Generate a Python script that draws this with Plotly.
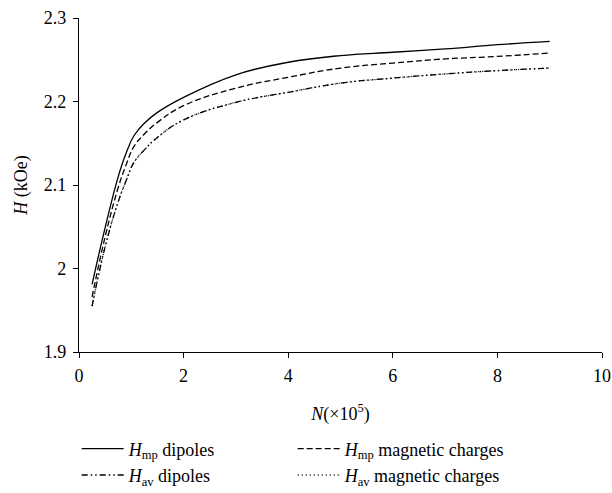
import plotly.graph_objects as go

N = [0.25, 0.5, 0.75, 0.9, 1.05, 1.25, 1.5, 2.0, 3.0, 4.0, 5.0, 6.0, 7.0, 8.0, 9.0]
H_mp_dip = [1.981, 2.049, 2.110, 2.138, 2.159, 2.174, 2.187, 2.205, 2.232, 2.247, 2.255, 2.259, 2.263, 2.268, 2.272]
H_mp_mag = [1.966, 2.038, 2.097, 2.124, 2.146, 2.161, 2.175, 2.195, 2.216, 2.229, 2.240, 2.246, 2.251, 2.254, 2.258]
H_av_dip = [1.955, 2.026, 2.080, 2.105, 2.127, 2.142, 2.157, 2.178, 2.199, 2.211, 2.222, 2.228, 2.233, 2.237, 2.240]
H_av_mag = [1.955, 2.026, 2.080, 2.105, 2.127, 2.142, 2.157, 2.178, 2.199, 2.211, 2.222, 2.228, 2.233, 2.237, 2.240]

names = ["<i>H</i><sub>mp</sub> dipoles", "<i>H</i><sub>mp</sub> magnetic charges",
         "<i>H</i><sub>av</sub> dipoles", "<i>H</i><sub>av</sub> magnetic charges"]
series = [H_mp_dip, H_mp_mag, H_av_dip, H_av_mag]
dashes = ["solid", "6px,3px", "6px,3px,1.5px,3px,1.5px,3px", "1px,3px"]
legends = ["legend", "legend2", "legend", "legend2"]

fig = go.Figure()
for nm, ys, d, lg in zip(names, series, dashes, legends):
    fig.add_trace(go.Scatter(x=N, y=ys, mode="lines", name=nm, line_shape="spline",
                             legend=lg,
                             line=dict(color="black", width=1.3, dash=d, smoothing=1.2)))

SERIF = "Liberation Serif, Times New Roman, serif"
leg_common = dict(orientation="v", xanchor="left", xref="paper",
                  yref="container", y=0.127, yanchor="top",
                  tracegroupgap=0, font=dict(family=SERIF, size=18),
                  itemwidth=42, borderwidth=0, bgcolor="rgba(0,0,0,0)")
fig.update_layout(
    width=612, height=493, plot_bgcolor="white", paper_bgcolor="white",
    margin=dict(l=79, r=10, t=18, b=141, autoexpand=False),
    font=dict(family=SERIF, size=18, color="black"),
    showlegend=True,
    legend=dict(x=-0.0044, **leg_common),
    legend2=dict(x=0.4086, **leg_common),
    xaxis=dict(range=[0, 10], dtick=2, showline=True, linecolor="black", linewidth=1.2,
               ticks="outside", ticklen=5, tickcolor="black", showgrid=False, zeroline=False,
               automargin=False, ticklabelstandoff=2,
               tickfont=dict(family=SERIF, size=18),
               title=dict(text="<i>N</i>(×10<sup>5</sup>)", standoff=22,
                          font=dict(family=SERIF, size=18))),
    yaxis=dict(range=[1.9, 2.3], dtick=0.1, showline=True, linecolor="black", linewidth=1.2,
               ticks="outside", ticklen=5, tickcolor="black", showgrid=False, zeroline=False,
               automargin=False, ticklabelstandoff=3,
               tickfont=dict(family=SERIF, size=18),
               title=dict(text="<i>H</i> (kOe)", standoff=11,
                          font=dict(family=SERIF, size=18))),
)
fig.write_html("out.html")
